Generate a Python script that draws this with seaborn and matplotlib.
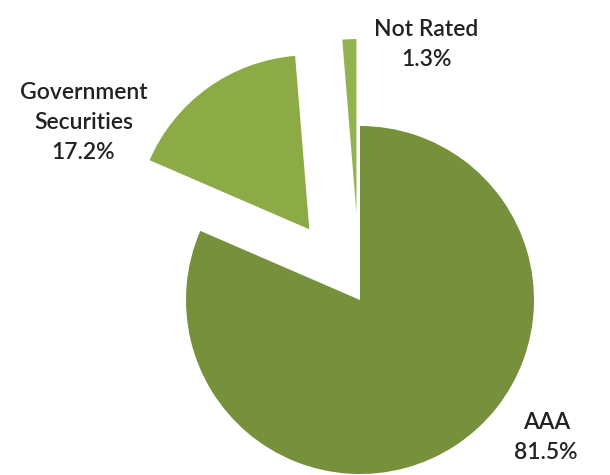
import matplotlib
matplotlib.use("Agg")
import matplotlib.pyplot as plt
import seaborn as sns

# credit quality breakdown
categories = ["AAA", "Government\nSecurities", "Not Rated"]
shares = [81.5, 17.2, 1.3]
colors = ["#76903C", "#8CAA45", "#93B350"]
explode = [0.0, 0.5, 0.5]

# label anchor positions (pie radius = 1)
label_pos = [(1.07, -0.79), (-1.59, 1.02), (0.38, 1.47)]

sns.set_theme(style="white")
plt.rcParams["font.family"] = ["Lato", "DejaVu Sans"]

fig = plt.figure(figsize=(6.1, 4.75), dpi=100)
ax = fig.add_axes([0, 0, 1, 1])

ax.pie(shares, colors=colors, explode=explode, startangle=90,
       counterclock=False, radius=1,
       wedgeprops={"linewidth": 0})

for name, val, (x, y) in zip(categories, shares, label_pos):
    ax.text(x, y, f"{name}\n{val:.1f}%", ha="center", va="center",
            fontsize=16.5, fontweight="semibold", color="#222222",
            linespacing=1.55)

ax.set_xlim(-360 / 174, 250 / 174)
ax.set_ylim(-175 / 174, 300 / 174)
ax.set_aspect("equal", adjustable="datalim")
ax.axis("off")

fig.savefig("out.png", dpi=100)
